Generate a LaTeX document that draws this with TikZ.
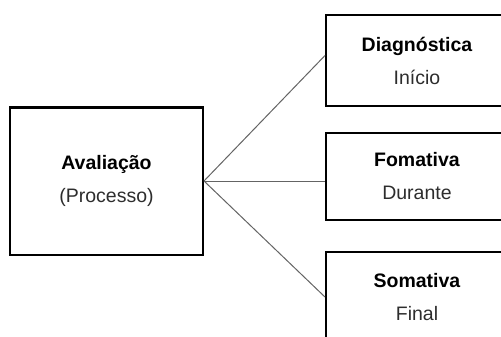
\documentclass[tikz,border=0pt]{standalone}
\usepackage{fontspec}
\setmainfont{Liberation Sans}
\usepackage{tikz}
\usetikzlibrary{positioning}
\definecolor{Sub}{RGB}{45, 45, 45}
\definecolor{Linea}{RGB}{100, 100, 100}

\begin{document}
\begin{tikzpicture}[x=1pt, y=-1pt,
        caja/.style={rectangle, draw=black, line width=2pt, fill=white, align=center, font=\fontsize{19.5}{33}\selectfont, inner sep=0pt},
        rama/.style={draw=Linea, line width=1pt}
    ]
        % Marco de la figura (tamaño del original)
        \useasboundingbox[fill=white] (0,0) rectangle (501,337);
        \clip (0,0) rectangle (501,337);

        % Bloque principal a la izquierda
        \node[caja, minimum width=193pt, minimum height=147pt] (aval) at (106.5,181) {\textbf{Avaliação}\\\textcolor{Sub}{(Processo)}};

        % Tres bloques a la derecha (cortados por el borde)
        \node[caja, minimum width=182pt, minimum height=91pt] (diag) at (417,60.5) {\textbf{Diagnóstica}\\\textcolor{Sub}{Início}};
        \node[caja, minimum width=182pt, minimum height=87pt] (form) at (417,176.5) {\textbf{Fomativa}\\\textcolor{Sub}{Durante}};
        \node[caja, minimum width=182pt, minimum height=90pt] (soma) at (417,297) {\textbf{Somativa}\\\textcolor{Sub}{Final}};

        % Ramas desde el bloque principal
        \draw[rama] (aval.east) -- ([yshift=5pt]diag.west);
        \draw[rama] (aval.east) -- (aval.east -| form.west);
        \draw[rama] (aval.east) -- (soma.west);
    \end{tikzpicture}
\end{document}
